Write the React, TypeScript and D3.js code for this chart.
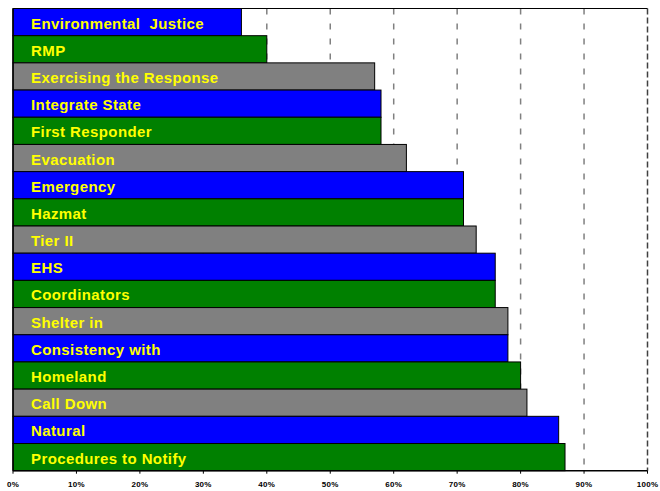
import React from "react";
import * as d3 from "d3";

const categories = [
  "Environmental  Justice",
  "RMP",
  "Exercising the Response",
  "Integrate State",
  "First Responder",
  "Evacuation",
  "Emergency",
  "Hazmat",
  "Tier II",
  "EHS",
  "Coordinators",
  "Shelter in",
  "Consistency with",
  "Homeland",
  "Call Down",
  "Natural",
  "Procedures to Notify",
];

const values = [36, 40, 57, 58, 58, 62, 71, 71, 73, 76, 76, 78, 78, 80, 81, 86, 87];

const tickValues = [0, 10, 20, 30, 40, 50, 60, 70, 80, 90, 100];

const palette = ["#0000FF", "#008000", "#808080"];

export default function App() {
  const W = 660;
  const H = 491;
  const left = 13;
  const right = 647.5;
  const top = 8.5;
  const bottom = 470.7;

  const x = d3.scaleLinear().domain([0, 100]).range([left, right]);
  const y = d3
    .scaleBand<string>()
    .domain(categories)
    .range([top, bottom])
    .paddingInner(0)
    .paddingOuter(0);

  const font = "'Liberation Sans', Arial, Helvetica, sans-serif";

  return (
    <svg
      width={W}
      height={H}
      style={{ position: "absolute", left: 0, top: 0, display: "block", background: "#fff" }}
    >
      {/* gridlines */}
      {tickValues
        .filter((t) => t > 0 && t < 100)
        .map((t) => (
          <line
            key={"g" + t}
            x1={x(t)}
            x2={x(t)}
            y1={top}
            y2={bottom}
            stroke="#808080"
            strokeWidth={1.5}
            strokeDasharray="6,9"
          />
        ))}
      {/* right border */}
      <line
        x1={x(100)}
        x2={x(100)}
        y1={top}
        y2={bottom}
        stroke="#404040"
        strokeWidth={1.5}
        strokeDasharray="6,3"
      />
      {/* top border */}
      <line x1={left} x2={right} y1={top} y2={top} stroke="#000" strokeWidth={1.2} />

      {/* bars */}
      {categories.map((c, i) => (
        <rect
          key={c}
          x={x(0)}
          y={y(c)!}
          width={x(values[i]) - x(0)}
          height={y.bandwidth()}
          fill={palette[i % 3]}
          stroke="#000"
          strokeWidth={1}
        />
      ))}

      {/* labels */}
      {categories.map((c) => (
        <text
          key={"t" + c}
          x={31}
          y={y(c)! + y.bandwidth() / 2 + 6.5}
          fill="#FFFF00"
          fontFamily={font}
          fontWeight="bold"
          fontSize={15}
          letterSpacing={0.4}
          style={{ whiteSpace: "pre" }}
        >
          {c}
        </text>
      ))}

      {/* axes */}
      <line x1={left} x2={left} y1={top} y2={bottom} stroke="#000" strokeWidth={1.5} />
      <line x1={left} x2={right} y1={bottom} y2={bottom} stroke="#000" strokeWidth={1.5} />
      {tickValues.map((t) => (
        <g key={"k" + t}>
          <line x1={x(t)} x2={x(t)} y1={bottom} y2={bottom + 3} stroke="#000" strokeWidth={1} />
          <text
            x={x(t)}
            y={486.5}
            textAnchor="middle"
            fontFamily={font}
            fontWeight="bold"
            fontSize={8}
            letterSpacing={0.3}
            fill="#000"
          >
            {t + "%"}
          </text>
        </g>
      ))}
    </svg>
  );
}
